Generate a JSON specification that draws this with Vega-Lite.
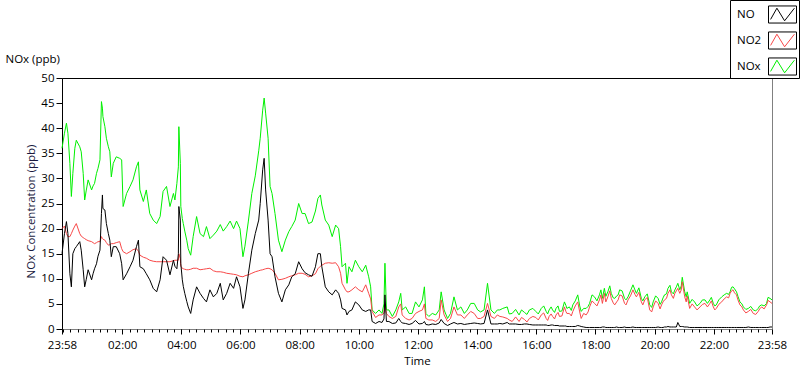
{
  "$schema": "https://vega.github.io/schema/vega-lite/v6.json",
  "width": 710,
  "height": 251,
  "autosize": {"type": "none"},
  "padding": {"left": 62, "top": 78, "right": 28, "bottom": 40},
  "background": "white",
  "config": {
    "view": {"stroke": "#808080", "strokeWidth": 1},
    "font": "Open Sans",
    "axis": {"labelFont": "Open Sans", "titleFont": "Open Sans", "labelFontSize": 11.5, "titleFontSize": 11.5, "titleFontWeight": "normal", "labelColor": "black", "titleColor": "black", "tickColor": "black", "domainColor": "black", "grid": false},
    "legend": {"labelFont": "Open Sans", "labelFontSize": 11.5, "labelColor": "black"}
  },
  "data": {
    "values": [
      {"t": "2020-01-01T23:58", "NO": 15, "NO2": 20, "NOx": 36},
      {"t": "2020-01-02T00:03", "NO": 19, "NO2": 20.5, "NOx": 39},
      {"t": "2020-01-02T00:07", "NO": 21.4, "NO2": 19, "NOx": 41},
      {"t": "2020-01-02T00:10", "NO": 19, "NO2": 18.4, "NOx": 39},
      {"t": "2020-01-02T00:14", "NO": 11, "NO2": 18.4, "NOx": 33},
      {"t": "2020-01-02T00:17", "NO": 8.4, "NO2": 19, "NOx": 26.4},
      {"t": "2020-01-02T00:20", "NO": 15, "NO2": 19.7, "NOx": 31},
      {"t": "2020-01-02T00:24", "NO": 16, "NO2": 20.5, "NOx": 36},
      {"t": "2020-01-02T00:27", "NO": 16.4, "NO2": 21, "NOx": 37.6},
      {"t": "2020-01-02T00:34", "NO": 17.4, "NO2": 19, "NOx": 36.3},
      {"t": "2020-01-02T00:37", "NO": 15.7, "NO2": 18.5, "NOx": 35.3},
      {"t": "2020-01-02T00:41", "NO": 11.8, "NO2": 18.2, "NOx": 31},
      {"t": "2020-01-02T00:44", "NO": 8.4, "NO2": 18, "NOx": 25.7},
      {"t": "2020-01-02T00:47", "NO": 9.8, "NO2": 17.8, "NOx": 27.5},
      {"t": "2020-01-02T00:51", "NO": 11.8, "NO2": 17.6, "NOx": 29.7},
      {"t": "2020-01-02T00:58", "NO": 9.8, "NO2": 17.4, "NOx": 27.7},
      {"t": "2020-01-02T01:01", "NO": 11, "NO2": 17.2, "NOx": 28.5},
      {"t": "2020-01-02T01:04", "NO": 12, "NO2": 17, "NOx": 29},
      {"t": "2020-01-02T01:08", "NO": 13, "NO2": 17.2, "NOx": 31},
      {"t": "2020-01-02T01:11", "NO": 14.5, "NO2": 17.4, "NOx": 32},
      {"t": "2020-01-02T01:15", "NO": 15.7, "NO2": 17.4, "NOx": 33.7},
      {"t": "2020-01-02T01:18", "NO": 23, "NO2": 18.4, "NOx": 45.3},
      {"t": "2020-01-02T01:20", "NO": 26.7, "NO2": 18, "NOx": 44},
      {"t": "2020-01-02T01:21", "NO": 24, "NO2": 17.9, "NOx": 42.3},
      {"t": "2020-01-02T01:25", "NO": 23.7, "NO2": 17.7, "NOx": 40.3},
      {"t": "2020-01-02T01:28", "NO": 21, "NO2": 17.2, "NOx": 38},
      {"t": "2020-01-02T01:32", "NO": 19, "NO2": 16.7, "NOx": 36.3},
      {"t": "2020-01-02T01:35", "NO": 17.7, "NO2": 16.8, "NOx": 35.3},
      {"t": "2020-01-02T01:38", "NO": 14.4, "NO2": 17, "NOx": 30.3},
      {"t": "2020-01-02T01:42", "NO": 16.4, "NO2": 17, "NOx": 33},
      {"t": "2020-01-02T01:48", "NO": 16.4, "NO2": 17.2, "NOx": 34.3},
      {"t": "2020-01-02T01:55", "NO": 15, "NO2": 17.4, "NOx": 34},
      {"t": "2020-01-02T01:59", "NO": 13, "NO2": 16, "NOx": 33.7},
      {"t": "2020-01-02T02:02", "NO": 9.8, "NO2": 15.4, "NOx": 24.4},
      {"t": "2020-01-02T02:09", "NO": 11, "NO2": 15, "NOx": 27},
      {"t": "2020-01-02T02:16", "NO": 12.4, "NO2": 15.4, "NOx": 28.4},
      {"t": "2020-01-02T02:22", "NO": 13.7, "NO2": 15.8, "NOx": 29.7},
      {"t": "2020-01-02T02:29", "NO": 16.4, "NO2": 16, "NOx": 32.3},
      {"t": "2020-01-02T02:33", "NO": 17.7, "NO2": 15.5, "NOx": 33.3},
      {"t": "2020-01-02T02:36", "NO": 12.4, "NO2": 14.7, "NOx": 27.7},
      {"t": "2020-01-02T02:43", "NO": 12, "NO2": 14.3, "NOx": 25.4},
      {"t": "2020-01-02T02:49", "NO": 11, "NO2": 14.1, "NOx": 27.7},
      {"t": "2020-01-02T02:56", "NO": 9.8, "NO2": 13.7, "NOx": 23},
      {"t": "2020-01-02T03:03", "NO": 8.1, "NO2": 13.5, "NOx": 21.7},
      {"t": "2020-01-02T03:10", "NO": 7.4, "NO2": 13.4, "NOx": 21},
      {"t": "2020-01-02T03:17", "NO": 9.8, "NO2": 13.4, "NOx": 22.4},
      {"t": "2020-01-02T03:23", "NO": 14.4, "NO2": 13.4, "NOx": 27.4},
      {"t": "2020-01-02T03:30", "NO": 13.7, "NO2": 13.4, "NOx": 28.4},
      {"t": "2020-01-02T03:37", "NO": 10.8, "NO2": 13.4, "NOx": 24.4},
      {"t": "2020-01-02T03:44", "NO": 13.7, "NO2": 13.6, "NOx": 27},
      {"t": "2020-01-02T03:47", "NO": 12.5, "NO2": 13.7, "NOx": 25.7},
      {"t": "2020-01-02T03:51", "NO": 12, "NO2": 13.7, "NOx": 29},
      {"t": "2020-01-02T03:54", "NO": 15, "NO2": 13.7, "NOx": 32.3},
      {"t": "2020-01-02T03:55", "NO": 24.4, "NO2": 15, "NOx": 40.3},
      {"t": "2020-01-02T03:58", "NO": 21.7, "NO2": 14, "NOx": 33},
      {"t": "2020-01-02T03:59", "NO": 13, "NO2": 12.5, "NOx": 24.4},
      {"t": "2020-01-02T04:02", "NO": 9.8, "NO2": 12.1, "NOx": 22},
      {"t": "2020-01-02T04:04", "NO": 8.5, "NO2": 12, "NOx": 21},
      {"t": "2020-01-02T04:07", "NO": 7.1, "NO2": 11.9, "NOx": 19.5},
      {"t": "2020-01-02T04:11", "NO": 5.5, "NO2": 11.8, "NOx": 17.7},
      {"t": "2020-01-02T04:14", "NO": 4.4, "NO2": 11.8, "NOx": 16},
      {"t": "2020-01-02T04:19", "NO": 3.1, "NO2": 11.9, "NOx": 14.7},
      {"t": "2020-01-02T04:24", "NO": 5.8, "NO2": 12.1, "NOx": 18.4},
      {"t": "2020-01-02T04:31", "NO": 8.4, "NO2": 12.1, "NOx": 22.4},
      {"t": "2020-01-02T04:38", "NO": 7.1, "NO2": 11.8, "NOx": 19},
      {"t": "2020-01-02T04:45", "NO": 6.1, "NO2": 11.9, "NOx": 18.4},
      {"t": "2020-01-02T04:51", "NO": 5.4, "NO2": 12, "NOx": 20.4},
      {"t": "2020-01-02T04:58", "NO": 7.8, "NO2": 12.1, "NOx": 18},
      {"t": "2020-01-02T05:05", "NO": 6.4, "NO2": 11.6, "NOx": 18.7},
      {"t": "2020-01-02T05:12", "NO": 7.1, "NO2": 11.4, "NOx": 19.5},
      {"t": "2020-01-02T05:19", "NO": 9.1, "NO2": 11.4, "NOx": 20.8},
      {"t": "2020-01-02T05:25", "NO": 5.8, "NO2": 11.3, "NOx": 19.5},
      {"t": "2020-01-02T05:32", "NO": 7.1, "NO2": 11.1, "NOx": 20.4},
      {"t": "2020-01-02T05:39", "NO": 9.1, "NO2": 11, "NOx": 21.5},
      {"t": "2020-01-02T05:46", "NO": 8.1, "NO2": 10.9, "NOx": 20},
      {"t": "2020-01-02T05:52", "NO": 10.4, "NO2": 10.8, "NOx": 21.5},
      {"t": "2020-01-02T05:59", "NO": 8.4, "NO2": 10.5, "NOx": 20},
      {"t": "2020-01-02T06:05", "NO": 4.1, "NO2": 10.4, "NOx": 14.4},
      {"t": "2020-01-02T06:09", "NO": 5.8, "NO2": 10.6, "NOx": 16.5},
      {"t": "2020-01-02T06:16", "NO": 11, "NO2": 10.8, "NOx": 21.5},
      {"t": "2020-01-02T06:23", "NO": 15.7, "NO2": 11.1, "NOx": 27},
      {"t": "2020-01-02T06:30", "NO": 19, "NO2": 11.4, "NOx": 30.5},
      {"t": "2020-01-02T06:37", "NO": 21.7, "NO2": 11.6, "NOx": 35.5},
      {"t": "2020-01-02T06:40", "NO": 25, "NO2": 11.7, "NOx": 38},
      {"t": "2020-01-02T06:45", "NO": 31.7, "NO2": 11.8, "NOx": 43.6},
      {"t": "2020-01-02T06:48", "NO": 34, "NO2": 11.9, "NOx": 46},
      {"t": "2020-01-02T06:51", "NO": 27.7, "NO2": 12, "NOx": 43},
      {"t": "2020-01-02T06:56", "NO": 21.7, "NO2": 12.1, "NOx": 38},
      {"t": "2020-01-02T07:00", "NO": 15, "NO2": 12, "NOx": 28.4},
      {"t": "2020-01-02T07:04", "NO": 14.4, "NO2": 11.8, "NOx": 27},
      {"t": "2020-01-02T07:10", "NO": 10.4, "NO2": 11.1, "NOx": 23},
      {"t": "2020-01-02T07:17", "NO": 7.1, "NO2": 9.8, "NOx": 17.7},
      {"t": "2020-01-02T07:24", "NO": 5.4, "NO2": 9.9, "NOx": 15.4},
      {"t": "2020-01-02T07:31", "NO": 7.8, "NO2": 10.1, "NOx": 17.7},
      {"t": "2020-01-02T07:38", "NO": 8.8, "NO2": 10.4, "NOx": 19.4},
      {"t": "2020-01-02T07:44", "NO": 10.4, "NO2": 10.6, "NOx": 20.4},
      {"t": "2020-01-02T07:51", "NO": 11, "NO2": 10.8, "NOx": 21.7},
      {"t": "2020-01-02T07:58", "NO": 13.4, "NO2": 11.1, "NOx": 25},
      {"t": "2020-01-02T08:05", "NO": 12, "NO2": 11.1, "NOx": 23},
      {"t": "2020-01-02T08:11", "NO": 11.2, "NO2": 10.9, "NOx": 23},
      {"t": "2020-01-02T08:18", "NO": 10.8, "NO2": 10.4, "NOx": 21},
      {"t": "2020-01-02T08:25", "NO": 10.5, "NO2": 10.6, "NOx": 21.3},
      {"t": "2020-01-02T08:32", "NO": 12.4, "NO2": 11, "NOx": 23.5},
      {"t": "2020-01-02T08:37", "NO": 15, "NO2": 12, "NOx": 26},
      {"t": "2020-01-02T08:42", "NO": 15, "NO2": 12.5, "NOx": 26.7},
      {"t": "2020-01-02T08:45", "NO": 12.4, "NO2": 12.7, "NOx": 24.7},
      {"t": "2020-01-02T08:52", "NO": 8.4, "NO2": 13.1, "NOx": 21.7},
      {"t": "2020-01-02T08:59", "NO": 7.4, "NO2": 13.2, "NOx": 20.7},
      {"t": "2020-01-02T09:06", "NO": 6.8, "NO2": 13.1, "NOx": 18.4},
      {"t": "2020-01-02T09:13", "NO": 7.8, "NO2": 13.2, "NOx": 20.7},
      {"t": "2020-01-02T09:19", "NO": 7.1, "NO2": 12.4, "NOx": 20},
      {"t": "2020-01-02T09:23", "NO": 5.8, "NO2": 11.1, "NOx": 16.4},
      {"t": "2020-01-02T09:26", "NO": 4.1, "NO2": 9.1, "NOx": 12.4},
      {"t": "2020-01-02T09:33", "NO": 3.8, "NO2": 7.8, "NOx": 13.1},
      {"t": "2020-01-02T09:36", "NO": 2.8, "NO2": 7.4, "NOx": 9.1},
      {"t": "2020-01-02T09:40", "NO": 3.5, "NO2": 7.4, "NOx": 12.4},
      {"t": "2020-01-02T09:46", "NO": 3.8, "NO2": 7.8, "NOx": 11.4},
      {"t": "2020-01-02T09:53", "NO": 5.4, "NO2": 8.4, "NOx": 13.7},
      {"t": "2020-01-02T10:00", "NO": 4.8, "NO2": 7.8, "NOx": 12.4},
      {"t": "2020-01-02T10:07", "NO": 3.8, "NO2": 7.4, "NOx": 11.4},
      {"t": "2020-01-02T10:14", "NO": 3.5, "NO2": 8.8, "NOx": 12.7},
      {"t": "2020-01-02T10:20", "NO": 3.8, "NO2": 7.1, "NOx": 10.4},
      {"t": "2020-01-02T10:24", "NO": 3.8, "NO2": 6, "NOx": 8.4},
      {"t": "2020-01-02T10:27", "NO": 1.5, "NO2": 3.5, "NOx": 3.8},
      {"t": "2020-01-02T10:34", "NO": 1.1, "NO2": 2.3, "NOx": 3.1},
      {"t": "2020-01-02T10:41", "NO": 1.5, "NO2": 2.8, "NOx": 3.8},
      {"t": "2020-01-02T10:47", "NO": 1.3, "NO2": 2.8, "NOx": 3.1},
      {"t": "2020-01-02T10:51", "NO": 2, "NO2": 3.2, "NOx": 5},
      {"t": "2020-01-02T10:53", "NO": 6.8, "NO2": 5, "NOx": 13.1},
      {"t": "2020-01-02T10:56", "NO": 1.5, "NO2": 3.1, "NOx": 3.8},
      {"t": "2020-01-02T11:01", "NO": 1.5, "NO2": 2.5, "NOx": 3.8},
      {"t": "2020-01-02T11:08", "NO": 1.1, "NO2": 2.1, "NOx": 2.5},
      {"t": "2020-01-02T11:15", "NO": 1.2, "NO2": 2.5, "NOx": 3.8},
      {"t": "2020-01-02T11:21", "NO": 2.1, "NO2": 4.4, "NOx": 5.4},
      {"t": "2020-01-02T11:25", "NO": 1.5, "NO2": 5, "NOx": 7.1},
      {"t": "2020-01-02T11:28", "NO": 1.2, "NO2": 2.8, "NOx": 3.8},
      {"t": "2020-01-02T11:35", "NO": 1.1, "NO2": 2.1, "NOx": 4.4},
      {"t": "2020-01-02T11:42", "NO": 0.9, "NO2": 1.8, "NOx": 3.1},
      {"t": "2020-01-02T11:48", "NO": 1.1, "NO2": 2.1, "NOx": 3.1},
      {"t": "2020-01-02T11:55", "NO": 1.7, "NO2": 3.1, "NOx": 5.4},
      {"t": "2020-01-02T12:02", "NO": 1, "NO2": 3.5, "NOx": 4.4},
      {"t": "2020-01-02T12:09", "NO": 1.1, "NO2": 3.8, "NOx": 5.8},
      {"t": "2020-01-02T12:13", "NO": 1.5, "NO2": 5, "NOx": 8.4},
      {"t": "2020-01-02T12:16", "NO": 0.9, "NO2": 2.1, "NOx": 3.1},
      {"t": "2020-01-02T12:22", "NO": 0.8, "NO2": 1.8, "NOx": 2.5},
      {"t": "2020-01-02T12:29", "NO": 1, "NO2": 1.8, "NOx": 3.1},
      {"t": "2020-01-02T12:36", "NO": 0.9, "NO2": 1.5, "NOx": 2.8},
      {"t": "2020-01-02T12:43", "NO": 1.2, "NO2": 2.1, "NOx": 3.8},
      {"t": "2020-01-02T12:47", "NO": 1.9, "NO2": 5.8, "NOx": 7.4},
      {"t": "2020-01-02T12:53", "NO": 1.1, "NO2": 2.8, "NOx": 3.8},
      {"t": "2020-01-02T13:00", "NO": 0.7, "NO2": 1.5, "NOx": 2.1},
      {"t": "2020-01-02T13:06", "NO": 1, "NO2": 2.1, "NOx": 3.1},
      {"t": "2020-01-02T13:13", "NO": 1.3, "NO2": 4.4, "NOx": 6.4},
      {"t": "2020-01-02T13:20", "NO": 1, "NO2": 2.8, "NOx": 3.8},
      {"t": "2020-01-02T13:27", "NO": 1.1, "NO2": 2.8, "NOx": 4.4},
      {"t": "2020-01-02T13:34", "NO": 0.9, "NO2": 2.1, "NOx": 3.1},
      {"t": "2020-01-02T13:40", "NO": 1, "NO2": 2.8, "NOx": 3.8},
      {"t": "2020-01-02T13:47", "NO": 1.1, "NO2": 3.5, "NOx": 5.1},
      {"t": "2020-01-02T13:54", "NO": 1.2, "NO2": 3.1, "NOx": 5.1},
      {"t": "2020-01-02T14:01", "NO": 1.1, "NO2": 2.1, "NOx": 3.8},
      {"t": "2020-01-02T14:07", "NO": 1, "NO2": 2.1, "NOx": 3.4},
      {"t": "2020-01-02T14:14", "NO": 1.1, "NO2": 2.5, "NOx": 3.8},
      {"t": "2020-01-02T14:21", "NO": 3.8, "NO2": 5.1, "NOx": 9.1},
      {"t": "2020-01-02T14:28", "NO": 1, "NO2": 2.5, "NOx": 3.8},
      {"t": "2020-01-02T14:35", "NO": 1, "NO2": 2.1, "NOx": 3.1},
      {"t": "2020-01-02T14:41", "NO": 1, "NO2": 2.8, "NOx": 3.8},
      {"t": "2020-01-02T14:46", "NO": 1.1, "NO2": 2.5, "NOx": 3.8},
      {"t": "2020-01-02T14:52", "NO": 1, "NO2": 2.4, "NOx": 4.1},
      {"t": "2020-01-02T15:01", "NO": 1.3, "NO2": 2.1, "NOx": 4.4},
      {"t": "2020-01-02T15:11", "NO": 1, "NO2": 1.5, "NOx": 3.1},
      {"t": "2020-01-02T15:25", "NO": 0.9, "NO2": 1.5, "NOx": 2.8},
      {"t": "2020-01-02T15:36", "NO": 1, "NO2": 1.9, "NOx": 3.3},
      {"t": "2020-01-02T15:46", "NO": 0.9, "NO2": 2.1, "NOx": 3.8},
      {"t": "2020-01-02T15:53", "NO": 0.8, "NO2": 2.5, "NOx": 4.1},
      {"t": "2020-01-02T15:59", "NO": 0.8, "NO2": 2.3, "NOx": 3.5},
      {"t": "2020-01-02T16:10", "NO": 0.8, "NO2": 2.8, "NOx": 4.1},
      {"t": "2020-01-02T16:20", "NO": 0.8, "NO2": 2.1, "NOx": 3.5},
      {"t": "2020-01-02T16:26", "NO": 0.7, "NO2": 2.5, "NOx": 3.8},
      {"t": "2020-01-02T16:33", "NO": 0.8, "NO2": 2.5, "NOx": 3.8},
      {"t": "2020-01-02T16:40", "NO": 0.7, "NO2": 2.8, "NOx": 4.1},
      {"t": "2020-01-02T16:47", "NO": 0.6, "NO2": 2.5, "NOx": 3.5},
      {"t": "2020-01-02T16:57", "NO": 0.6, "NO2": 4.4, "NOx": 5.4},
      {"t": "2020-01-02T17:02", "NO": 0.5, "NO2": 3.1, "NOx": 4.1},
      {"t": "2020-01-02T17:07", "NO": 0.5, "NO2": 3.1, "NOx": 4.4},
      {"t": "2020-01-02T17:14", "NO": 0.5, "NO2": 3.5, "NOx": 4.8},
      {"t": "2020-01-02T17:24", "NO": 0.7, "NO2": 5.4, "NOx": 6.8},
      {"t": "2020-01-02T17:31", "NO": 0.5, "NO2": 2.1, "NOx": 3.5},
      {"t": "2020-01-02T17:36", "NO": 0.4, "NO2": 3.1, "NOx": 4.1},
      {"t": "2020-01-02T17:41", "NO": 0.3, "NO2": 2.8, "NOx": 4.1},
      {"t": "2020-01-02T17:48", "NO": 0.3, "NO2": 4.4, "NOx": 5.1},
      {"t": "2020-01-02T17:58", "NO": 0.3, "NO2": 5.1, "NOx": 6.4},
      {"t": "2020-01-02T18:08", "NO": 0.3, "NO2": 5.8, "NOx": 6.8},
      {"t": "2020-01-02T18:14", "NO": 0.4, "NO2": 5.1, "NOx": 6.1},
      {"t": "2020-01-02T18:18", "NO": 0.4, "NO2": 7.1, "NOx": 8.1},
      {"t": "2020-01-02T18:25", "NO": 0.3, "NO2": 6.4, "NOx": 7.4},
      {"t": "2020-01-02T18:32", "NO": 0.3, "NO2": 6.1, "NOx": 7.1},
      {"t": "2020-01-02T18:39", "NO": 0.3, "NO2": 4.8, "NOx": 6.1},
      {"t": "2020-01-02T18:43", "NO": 0.4, "NO2": 5.4, "NOx": 6.6},
      {"t": "2020-01-02T18:49", "NO": 0.3, "NO2": 6.8, "NOx": 7.8},
      {"t": "2020-01-02T18:59", "NO": 0.4, "NO2": 5.1, "NOx": 6.1},
      {"t": "2020-01-02T19:06", "NO": 0.3, "NO2": 5.8, "NOx": 6.4},
      {"t": "2020-01-02T19:16", "NO": 0.4, "NO2": 7.8, "NOx": 8.8},
      {"t": "2020-01-02T19:23", "NO": 0.3, "NO2": 6.4, "NOx": 7.1},
      {"t": "2020-01-02T19:33", "NO": 0.3, "NO2": 5.4, "NOx": 6.1},
      {"t": "2020-01-02T19:40", "NO": 0.3, "NO2": 5.8, "NOx": 6.4},
      {"t": "2020-01-02T19:50", "NO": 0.3, "NO2": 3.8, "NOx": 4.8},
      {"t": "2020-01-02T19:57", "NO": 0.3, "NO2": 4.4, "NOx": 5.4},
      {"t": "2020-01-02T20:07", "NO": 0.4, "NO2": 5.1, "NOx": 6.1},
      {"t": "2020-01-02T20:14", "NO": 0.3, "NO2": 4.8, "NOx": 5.4},
      {"t": "2020-01-02T20:20", "NO": 0.4, "NO2": 5.8, "NOx": 6.8},
      {"t": "2020-01-02T20:27", "NO": 0.5, "NO2": 7.1, "NOx": 8.1},
      {"t": "2020-01-02T20:34", "NO": 0.4, "NO2": 6.8, "NOx": 7.4},
      {"t": "2020-01-02T20:41", "NO": 0.4, "NO2": 7.1, "NOx": 7.8},
      {"t": "2020-01-02T20:47", "NO": 1.3, "NO2": 8.1, "NOx": 9.1},
      {"t": "2020-01-02T20:51", "NO": 0.5, "NO2": 7.1, "NOx": 7.8},
      {"t": "2020-01-02T20:56", "NO": 0.5, "NO2": 9.4, "NOx": 10.3},
      {"t": "2020-01-02T21:01", "NO": 0.4, "NO2": 6.4, "NOx": 7.4},
      {"t": "2020-01-02T21:11", "NO": 0.3, "NO2": 4.1, "NOx": 5.1},
      {"t": "2020-01-02T21:21", "NO": 0.3, "NO2": 4.4, "NOx": 5.4},
      {"t": "2020-01-02T21:32", "NO": 0.3, "NO2": 4.4, "NOx": 5.1},
      {"t": "2020-01-02T21:42", "NO": 0.3, "NO2": 5.1, "NOx": 5.8},
      {"t": "2020-01-02T21:52", "NO": 0.3, "NO2": 5.1, "NOx": 5.8},
      {"t": "2020-01-02T21:59", "NO": 0.3, "NO2": 4.4, "NOx": 5.1},
      {"t": "2020-01-02T22:05", "NO": 0.3, "NO2": 4.1, "NOx": 4.8},
      {"t": "2020-01-02T22:16", "NO": 0.3, "NO2": 5.4, "NOx": 6.4},
      {"t": "2020-01-02T22:26", "NO": 0.3, "NO2": 6.4, "NOx": 7.1},
      {"t": "2020-01-02T22:33", "NO": 0.3, "NO2": 7.1, "NOx": 7.4},
      {"t": "2020-01-02T22:39", "NO": 0.3, "NO2": 7.8, "NOx": 8.4},
      {"t": "2020-01-02T22:46", "NO": 0.3, "NO2": 6.8, "NOx": 7.4},
      {"t": "2020-01-02T22:53", "NO": 0.3, "NO2": 4.8, "NOx": 5.4},
      {"t": "2020-01-02T23:00", "NO": 0.3, "NO2": 3.8, "NOx": 4.4},
      {"t": "2020-01-02T23:10", "NO": 0.4, "NO2": 3.5, "NOx": 4.1},
      {"t": "2020-01-02T23:20", "NO": 0.3, "NO2": 3.1, "NOx": 3.8},
      {"t": "2020-01-02T23:30", "NO": 0.3, "NO2": 3.5, "NOx": 4.1},
      {"t": "2020-01-02T23:37", "NO": 0.3, "NO2": 4.4, "NOx": 4.8},
      {"t": "2020-01-02T23:47", "NO": 0.3, "NO2": 4.8, "NOx": 5.1},
      {"t": "2020-01-02T23:54", "NO": 0.4, "NO2": 5.4, "NOx": 6.1},
      {"t": "2020-01-02T23:58", "NO": 0.4, "NO2": 5.1, "NOx": 5.8},
      {"t": "2020-01-02T15:05", "NO": 1.0, "NO2": 1.8, "NOx": 3.0},
      {"t": "2020-01-02T15:18", "NO": 1.0, "NO2": 2.4, "NOx": 3.9},
      {"t": "2020-01-02T15:30", "NO": 0.9, "NO2": 2.3, "NOx": 3.8},
      {"t": "2020-01-02T15:41", "NO": 1.0, "NO2": 1.4, "NOx": 2.9},
      {"t": "2020-01-02T16:04", "NO": 0.8, "NO2": 1.8, "NOx": 3.0},
      {"t": "2020-01-02T16:15", "NO": 0.8, "NO2": 3.2, "NOx": 4.6},
      {"t": "2020-01-02T16:23", "NO": 0.7, "NO2": 1.7, "NOx": 3.0},
      {"t": "2020-01-02T16:30", "NO": 0.8, "NO2": 3.0, "NOx": 4.4},
      {"t": "2020-01-02T16:37", "NO": 0.7, "NO2": 2.0, "NOx": 3.3},
      {"t": "2020-01-02T16:44", "NO": 0.7, "NO2": 3.3, "NOx": 4.6},
      {"t": "2020-01-02T16:52", "NO": 0.6, "NO2": 2.6, "NOx": 3.6},
      {"t": "2020-01-02T17:00", "NO": 0.6, "NO2": 3.5, "NOx": 4.7},
      {"t": "2020-01-02T17:11", "NO": 0.5, "NO2": 2.6, "NOx": 3.7},
      {"t": "2020-01-02T17:19", "NO": 0.5, "NO2": 4.6, "NOx": 5.6},
      {"t": "2020-01-02T17:28", "NO": 0.6, "NO2": 3.4, "NOx": 4.6},
      {"t": "2020-01-02T17:45", "NO": 0.3, "NO2": 3.4, "NOx": 4.5},
      {"t": "2020-01-02T17:53", "NO": 0.3, "NO2": 5.6, "NOx": 6.8},
      {"t": "2020-01-02T18:03", "NO": 0.3, "NO2": 4.6, "NOx": 5.6},
      {"t": "2020-01-02T18:11", "NO": 0.3, "NO2": 6.8, "NOx": 7.8},
      {"t": "2020-01-02T18:21", "NO": 0.3, "NO2": 5.4, "NOx": 6.5},
      {"t": "2020-01-02T18:29", "NO": 0.3, "NO2": 7.6, "NOx": 8.6},
      {"t": "2020-01-02T18:36", "NO": 0.3, "NO2": 5.2, "NOx": 6.2},
      {"t": "2020-01-02T18:46", "NO": 0.3, "NO2": 5.8, "NOx": 6.8},
      {"t": "2020-01-02T18:54", "NO": 0.3, "NO2": 6.6, "NOx": 7.6},
      {"t": "2020-01-02T19:02", "NO": 0.3, "NO2": 4.8, "NOx": 5.8},
      {"t": "2020-01-02T19:11", "NO": 0.3, "NO2": 6.6, "NOx": 7.6},
      {"t": "2020-01-02T19:20", "NO": 0.3, "NO2": 6.9, "NOx": 7.8},
      {"t": "2020-01-02T19:28", "NO": 0.3, "NO2": 7.3, "NOx": 8.2},
      {"t": "2020-01-02T19:36", "NO": 0.3, "NO2": 4.8, "NOx": 5.6},
      {"t": "2020-01-02T19:45", "NO": 0.3, "NO2": 6.3, "NOx": 7.0},
      {"t": "2020-01-02T19:54", "NO": 0.3, "NO2": 3.4, "NOx": 4.3},
      {"t": "2020-01-02T20:02", "NO": 0.3, "NO2": 5.6, "NOx": 6.6},
      {"t": "2020-01-02T20:11", "NO": 0.3, "NO2": 4.0, "NOx": 4.9},
      {"t": "2020-01-02T20:17", "NO": 0.3, "NO2": 5.4, "NOx": 6.2},
      {"t": "2020-01-02T20:24", "NO": 0.4, "NO2": 6.1, "NOx": 7.0},
      {"t": "2020-01-02T20:31", "NO": 0.4, "NO2": 7.8, "NOx": 8.7},
      {"t": "2020-01-02T20:38", "NO": 0.4, "NO2": 6.1, "NOx": 7.0},
      {"t": "2020-01-02T20:44", "NO": 0.4, "NO2": 7.6, "NOx": 8.4},
      {"t": "2020-01-02T20:54", "NO": 0.5, "NO2": 7.8, "NOx": 8.6},
      {"t": "2020-01-02T21:04", "NO": 0.4, "NO2": 5.4, "NOx": 6.4},
      {"t": "2020-01-02T21:06", "NO": 0.4, "NO2": 6.6, "NOx": 7.4},
      {"t": "2020-01-02T21:16", "NO": 0.3, "NO2": 5.0, "NOx": 5.9},
      {"t": "2020-01-02T21:26", "NO": 0.3, "NO2": 3.8, "NOx": 4.6},
      {"t": "2020-01-02T21:37", "NO": 0.3, "NO2": 4.9, "NOx": 5.8},
      {"t": "2020-01-02T21:47", "NO": 0.3, "NO2": 4.4, "NOx": 5.1},
      {"t": "2020-01-02T21:55", "NO": 0.3, "NO2": 5.6, "NOx": 6.3},
      {"t": "2020-01-02T22:02", "NO": 0.3, "NO2": 3.8, "NOx": 4.6},
      {"t": "2020-01-02T22:10", "NO": 0.3, "NO2": 4.9, "NOx": 5.8},
      {"t": "2020-01-02T22:21", "NO": 0.3, "NO2": 6.0, "NOx": 6.8},
      {"t": "2020-01-02T22:30", "NO": 0.3, "NO2": 6.2, "NOx": 6.9},
      {"t": "2020-01-02T22:36", "NO": 0.3, "NO2": 7.6, "NOx": 8.3},
      {"t": "2020-01-02T22:42", "NO": 0.3, "NO2": 7.2, "NOx": 8.0},
      {"t": "2020-01-02T22:49", "NO": 0.3, "NO2": 5.8, "NOx": 6.5},
      {"t": "2020-01-02T22:57", "NO": 0.3, "NO2": 4.4, "NOx": 5.0},
      {"t": "2020-01-02T23:05", "NO": 0.3, "NO2": 3.2, "NOx": 3.9},
      {"t": "2020-01-02T23:15", "NO": 0.3, "NO2": 3.9, "NOx": 4.5},
      {"t": "2020-01-02T23:25", "NO": 0.3, "NO2": 2.9, "NOx": 3.6},
      {"t": "2020-01-02T23:33", "NO": 0.3, "NO2": 4.0, "NOx": 4.6},
      {"t": "2020-01-02T23:42", "NO": 0.3, "NO2": 4.0, "NOx": 4.6},
      {"t": "2020-01-02T23:50", "NO": 0.3, "NO2": 5.7, "NOx": 6.3}
    ]
  },
  "resolve": {"axis": {"x": "independent"}},
  "layer": [
    {
      "transform": [{"fold": ["NO", "NO2", "NOx"], "as": ["k", "v"]}],
      "encoding": {
        "x": {
          "field": "t", "type": "temporal",
          "scale": {"domain": [{"year": 2020, "month": 1, "date": 1, "hours": 23, "minutes": 58}, {"year": 2020, "month": 1, "date": 2, "hours": 23, "minutes": 58}]},
          "axis": {
            "orient": "bottom",
            "values": [
              {"year": 2020, "month": 1, "date": 1, "hours": 23, "minutes": 58},
              {"year": 2020, "month": 1, "date": 2, "hours": 2, "minutes": 0},
              {"year": 2020, "month": 1, "date": 2, "hours": 4, "minutes": 0},
              {"year": 2020, "month": 1, "date": 2, "hours": 6, "minutes": 0},
              {"year": 2020, "month": 1, "date": 2, "hours": 8, "minutes": 0},
              {"year": 2020, "month": 1, "date": 2, "hours": 10, "minutes": 0},
              {"year": 2020, "month": 1, "date": 2, "hours": 12, "minutes": 0},
              {"year": 2020, "month": 1, "date": 2, "hours": 14, "minutes": 0},
              {"year": 2020, "month": 1, "date": 2, "hours": 16, "minutes": 0},
              {"year": 2020, "month": 1, "date": 2, "hours": 18, "minutes": 0},
              {"year": 2020, "month": 1, "date": 2, "hours": 20, "minutes": 0},
              {"year": 2020, "month": 1, "date": 2, "hours": 22, "minutes": 0},
              {"year": 2020, "month": 1, "date": 2, "hours": 23, "minutes": 58}
            ],
            "format": "%H:%M", "domain": false, "tickSize": 5, "tickWidth": 1, "labelPadding": 5,
            "labelFlush": false, "labelOverlap": false, "title": "Time", "titlePadding": 5
          }
        },
        "y": {
          "field": "v", "type": "quantitative",
          "scale": {"domain": [0, 50], "nice": false},
          "axis": {"values": [0, 5, 10, 15, 20, 25, 30, 35, 40, 45, 50], "tickSize": 6, "labelPadding": 2, "title": "NOx Concentration (ppb)", "titlePadding": 4, "titleY": 133, "titleColor": "#1a1a40"}
        },
        "color": {
          "field": "k", "type": "nominal",
          "scale": {"domain": ["NO", "NO2", "NOx"], "range": ["#000000", "#f84848", "#00f000"]},
          "legend": {
            "orient": "none", "legendX": 668, "legendY": -78, "title": null, "direction": "vertical",
            "padding": 0, "strokeColor": "black", "cornerRadius": 0, "rowPadding": -3,
            "symbolType": "M-1,-0.61M1,0.61M-0.85,0.35L-0.4,-0.45L0.15,0.45L0.85,-0.45",
            "symbolSize": 784, "symbolStrokeWidth": 1, "symbolOffset": 38, "labelOffset": -60,
            "encode": {"symbols": {"update": {"fill": {"value": "transparent"}}}}
          }
        }
      },
      "layer": [
        {"transform": [{"filter": "datum.k === 'NOx'"}], "mark": {"type": "line", "strokeWidth": 1}},
        {"transform": [{"filter": "datum.k === 'NO2'"}], "mark": {"type": "line", "strokeWidth": 1}},
        {"transform": [{"filter": "datum.k === 'NO'"}], "mark": {"type": "line", "strokeWidth": 1}}
      ]
    },
    {
      "transform": [{"fold": ["NO", "NO2", "NOx"], "as": ["k2", "v2"]}],
      "mark": {"type": "point", "opacity": 0},
      "encoding": {
        "x": {
          "field": "t", "type": "temporal",
          "axis": {"orient": "bottom", "tickCount": 96, "labels": false, "domain": false, "tickSize": 3, "title": null}
        },
        "shape": {
          "field": "k2", "type": "nominal",
          "scale": {"range": ["M-1,-0.61H1V0.61H-1Z", "M-1,-0.61H1V0.61H-1Z", "M-1,-0.61H1V0.61H-1Z"]},
          "legend": {
            "orient": "none", "legendX": 668, "legendY": -78, "title": null, "direction": "vertical",
            "padding": 0, "rowPadding": -3, "symbolSize": 784, "symbolStrokeWidth": 1,
            "symbolStrokeColor": "black", "symbolOffset": 38, "labelOffset": -60, "labelOpacity": 0,
            "encode": {"symbols": {"update": {"opacity": {"value": 1}, "stroke": {"value": "black"}, "fill": {"value": "transparent"}, "strokeWidth": {"value": 1}}}}
          }
        }
      }
    },
    {
      "mark": {"type": "point", "opacity": 0},
      "encoding": {
        "x": {
          "field": "t", "type": "temporal",
          "axis": {"orient": "top", "ticks": false, "labels": false, "domain": true, "title": "NOx (ppb)",
            "titleX": -57, "titleY": -14, "titleAngle": 0, "titleAlign": "left", "titleBaseline": "bottom", "titleAnchor": "start"}
        }
      }
    }
  ]
}
